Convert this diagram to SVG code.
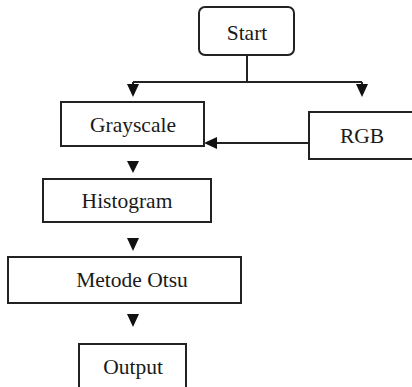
<svg xmlns="http://www.w3.org/2000/svg" width="412" height="387" viewBox="0 0 412 387">
<defs>
<style>
.box{fill:#fff;stroke:#222;stroke-width:2}
.t{font-family:'Liberation Serif','Times New Roman',Times,'DejaVu Serif',serif;font-size:21.5px;fill:#1a1a1a;text-anchor:middle}
.ln{fill:none;stroke:#222;stroke-width:2}
.hd{fill:#111}
</style>
</defs>
<g id="connectors">
<path class="ln" d="M247 55V82M133 82H362M133 82V88M362 82V88"/>
<path class="hd" d="M127 84H139L133 97Z"/>
<path class="hd" d="M356 84H368L362 97Z"/>
<path class="ln" d="M309 143H214"/>
<path class="hd" d="M204 143L217 137V149Z"/>
<path class="hd" d="M127 161H139L133 173Z"/>
<path class="hd" d="M127 238H139L133 251Z"/>
<path class="hd" d="M127 314H139L133 327Z"/>
</g>
<g id="start"><rect class="box" x="199" y="7" width="95" height="48" rx="6"/><text class="t" x="247" y="40">Start</text></g>
<g id="grayscale"><rect class="box" x="61" y="102" width="143" height="44"/><text class="t" x="133" y="132">Grayscale</text></g>
<g id="rgb"><rect class="box" x="309" y="112" width="106" height="47"/><text class="t" x="362" y="143">RGB</text></g>
<g id="histogram"><rect class="box" x="43" y="179" width="168" height="43"/><text class="t" x="127" y="208">Histogram</text></g>
<g id="otsu"><rect class="box" x="8" y="257" width="233" height="46"/><text class="t" x="132" y="287">Metode Otsu</text></g>
<g id="output"><rect class="box" x="79" y="344" width="107" height="50"/><text class="t" x="133" y="374">Output</text></g>
</svg>
